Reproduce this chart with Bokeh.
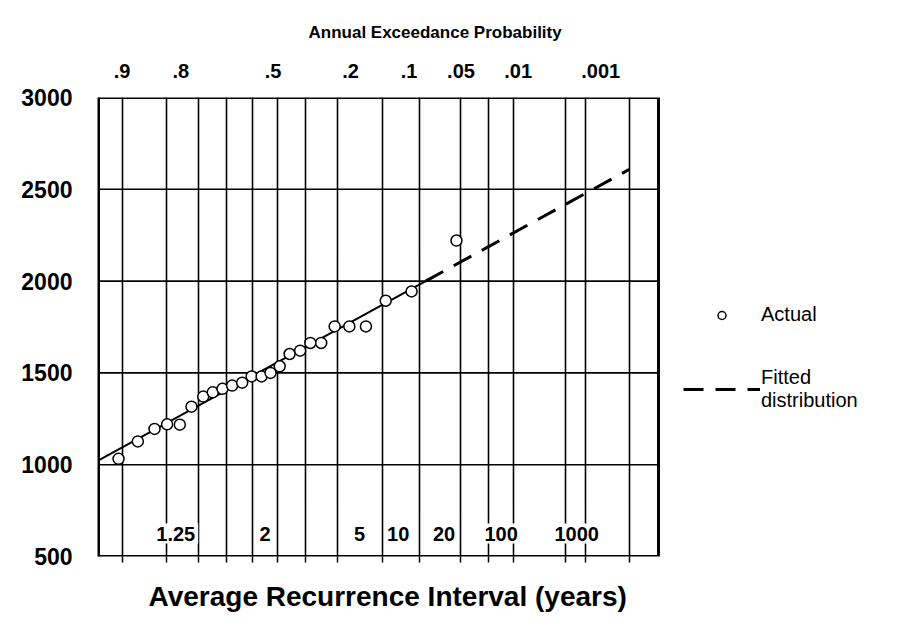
from statistics import NormalDist

from bokeh.plotting import figure
from bokeh.models import (Range1d, FixedTicker, Label, Legend, LegendItem,
                          LinearAxis, Title)
from bokeh.embed import file_html
from bokeh.resources import INLINE

# ---------------- data ----------------
# vertical grid lines of the normal-probability paper (annual exceedance probability)
grid_probs = [0.9, 0.8, 0.7, 0.6, 0.5, 0.4, 0.3, 0.2, 0.1, 0.05, 0.02, 0.01,
              0.005, 0.001, 0.0005, 0.0001]
# upper tick labels (exceedance probability)
top_labels = [".9", ".8", ".5", ".2", ".1", ".05", ".01", ".001"]
top_label_probs = [0.9, 0.8, 0.5, 0.2, 0.1, 0.05, 0.01, 0.001]
# lower tick labels (average recurrence interval, years)
bottom_labels = ["1.25", "2", "5", "10", "20", "100", "1000"]
bottom_label_years = [1.25, 2, 5, 10, 20, 100, 1000]
# y axis ticks
y_ticks = [500, 1000, 1500, 2000, 2500, 3000]
y_grid = [1000, 1500, 2000, 2500]

# observed annual values (exceedance probability, value)
actual_prob = [0.906, 0.870, 0.832, 0.799, 0.762, 0.725, 0.685, 0.651, 0.615,
               0.578, 0.539, 0.502, 0.463, 0.428, 0.393, 0.356, 0.318, 0.283,
               0.248, 0.208, 0.169, 0.131, 0.094, 0.058, 0.022]
actual_value = [1032, 1127, 1195, 1220, 1218, 1316, 1371, 1394, 1413,
                1431, 1447, 1481, 1481, 1500, 1536, 1603, 1621, 1663,
                1663, 1753, 1753, 1753, 1893, 1944, 2221]

# fitted distribution line (solid within data range, dashed extrapolation)
fit_solid_prob = [0.935, 0.0436]
fit_solid_value = [1023, 2000]
fit_dash_prob = [0.0436, 0.0001]
fit_dash_value = [2000, 2609]

# ---------------- helpers ----------------
nd = NormalDist()


def zpos(prob):
    """exceedance probability -> standard normal variate (probability paper)"""
    return nd.inv_cdf(1.0 - prob)


FONT = "Liberation Sans"
BOX_W = 560          # width of the graph box in pixels
FRAME_W = 801        # frame also holds the legend area to the right of the box

x_lo = zpos(0.935)           # left edge of the box
x_box = zpos(0.000031)       # right edge of the box
px_per_z = BOX_W / (x_box - x_lo)
x_frame_hi = x_lo + FRAME_W / px_per_z

p = figure(width=899, height=632,
           x_range=Range1d(x_lo, x_frame_hi), y_range=Range1d(500, 3000),
           output_backend="svg", toolbar_location=None,
           min_border_left=98, min_border_right=0,
           min_border_top=97, min_border_bottom=76)
p.background_fill_color = "white"
p.border_fill_color = "white"
p.outline_line_color = None

grid_z = [zpos(q) for q in grid_probs]

# x axis below: only tick marks under the box
xa = p.xaxis[0]
xa.ticker = FixedTicker(ticks=grid_z)
xa.major_label_overrides = {z: "" for z in grid_z}
xa.major_label_text_font_size = "1px"
xa.major_label_standoff = 0
xa.major_tick_in = 0
xa.major_tick_out = 6
xa.major_tick_line_width = 1.5
xa.minor_tick_line_color = None
xa.axis_line_color = None

# y axis
ya = p.yaxis[0]
ya.ticker = FixedTicker(ticks=y_ticks)
ya.major_tick_in = 0
ya.major_tick_out = 0
ya.minor_tick_line_color = None
ya.axis_line_width = 2
ya.major_label_standoff = 26
ya.major_label_text_font = FONT
ya.major_label_text_font_style = "bold"
ya.major_label_text_font_size = "23px"
ya.major_label_text_color = "black"

# upper probability labels as an axis above the box
top_dx = [0, 14, 21, 13, 27, 42, 30, 35]
top_pos = [zpos(q) + dx / px_per_z for q, dx in zip(top_label_probs, top_dx)]
ta = LinearAxis(ticker=FixedTicker(ticks=top_pos),
                major_label_overrides={v: t for v, t in zip(top_pos, top_labels)},
                axis_line_color=None, major_tick_line_color=None,
                minor_tick_line_color=None, major_label_standoff=14,
                major_label_text_font=FONT, major_label_text_font_style="bold",
                major_label_text_font_size="20px",
                major_label_text_color="black")
p.add_layout(ta, "above")

# vertical grid lines (full box height)
p.xgrid.ticker = FixedTicker(ticks=grid_z)
p.xgrid.grid_line_color = "black"
p.xgrid.grid_line_width = 1.6
p.ygrid.grid_line_color = None

# horizontal grid lines, limited to the box
p.segment(x0=[x_lo] * len(y_grid), y0=y_grid, x1=[x_box] * len(y_grid),
          y1=y_grid, line_color="black", line_width=1.6)
# box border
p.quad(left=[x_lo], right=[x_box], bottom=[y_ticks[0]], top=[y_ticks[-1]],
       fill_color=None, line_color="black", line_width=3)

# fitted line
p.line([zpos(q) for q in fit_solid_prob], fit_solid_value,
       line_color="black", line_width=2)
r_dash = p.line([zpos(q) for q in fit_dash_prob], fit_dash_value,
                line_color="black", line_width=3, line_dash="20 12")

# observed points
r_pts = p.scatter([zpos(q) for q in actual_prob], actual_value,
                  marker="circle", size=11, fill_color="white",
                  line_color="black", line_width=1.5)

# lower (recurrence interval) labels with white boxes
bot_dx = [9, 13, 22, 16, 25, 13, 11]
for txt, t, dx in zip(bottom_labels, bottom_label_years, bot_dx):
    p.add_layout(Label(x=zpos(1.0 / t), y=625, text=txt, x_offset=dx,
                       text_align="center", text_baseline="middle",
                       text_font=FONT, text_font_style="bold",
                       text_font_size="20px", text_color="black",
                       background_fill_color="white", padding=3))

# titles
p.title.text = "Annual Exceedance Probability"
p.title.align = "left"
p.title.offset = 210
p.title.standoff = 37
p.title.text_font = FONT
p.title.text_font_style = "bold"
p.title.text_font_size = "17px"
p.title.text_color = "black"

p.add_layout(Title(text="Average Recurrence Interval (years)", align="left",
                   offset=50, standoff=32, text_font=FONT,
                   text_font_style="bold", text_font_size="28px",
                   text_color="black"), "below")

# legend, in the frame area right of the box
legend = Legend(items=[LegendItem(label="Actual", renderers=[r_pts]),
                       LegendItem(label="Fitted\ndistribution",
                                  renderers=[r_dash])],
                location=(585, 144), glyph_width=77, glyph_height=20,
                label_standoff=1, padding=0, margin=0, spacing=40,
                border_line_color=None, background_fill_alpha=0,
                label_text_font=FONT, label_text_font_size="20px",
                label_text_color="black")
p.add_layout(legend)

open("out.html", "w").write(file_html(p, INLINE))
